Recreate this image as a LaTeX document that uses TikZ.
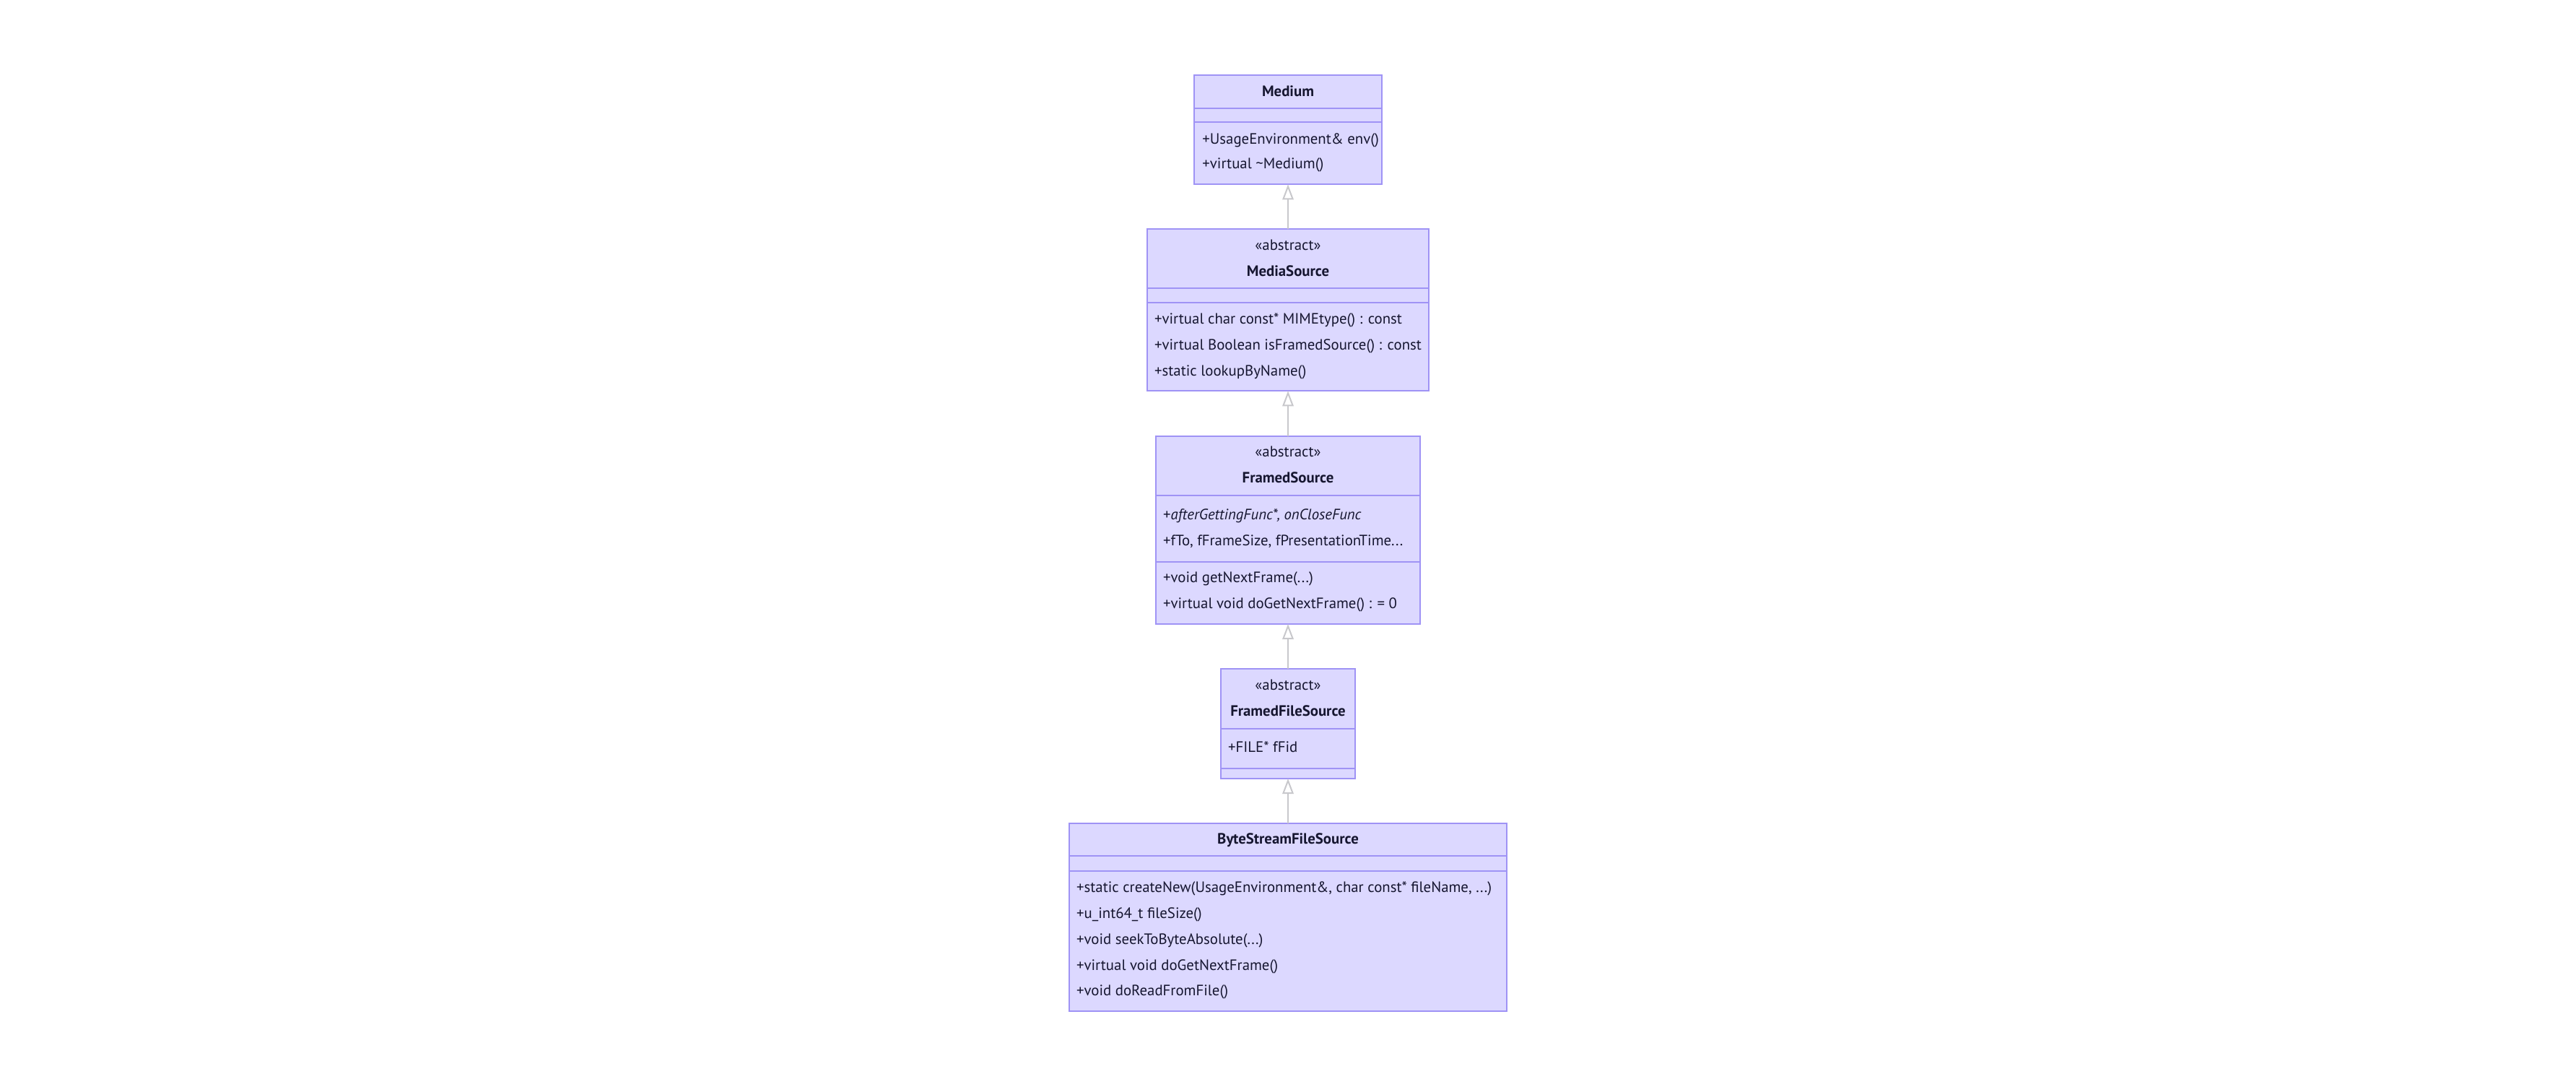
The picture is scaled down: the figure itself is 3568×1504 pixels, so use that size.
\documentclass[tikz,border=0pt]{standalone}
\usepackage{fontspec}
\setmainfont{PT Sans}
\usetikzlibrary{arrows.meta,calc}
\definecolor{boxfill}{RGB}{220,216,255}
\definecolor{boxline}{RGB}{159,147,245}
\definecolor{linkline}{RGB}{200,200,204}
\definecolor{txt}{RGB}{22,22,48}
\tikzset{
  classbox/.style={draw=boxline, fill=boxfill, line width=1pt, inner sep=0pt, outer sep=0pt},
  divider/.style={draw=boxline, line width=1pt},
  txtfont/.style={font=\fontsize{10.4}{12.5}\selectfont},
  member/.style={txtfont, anchor=base west, yshift=-3.6pt, inner sep=0pt, text=txt},
  ctitle/.style={font=\fontsize{10.4}{12.5}\selectfont\bfseries, anchor=base, yshift=-3.6pt, inner sep=0pt, text=txt},
  stereo/.style={txtfont, anchor=base, yshift=-3.6pt, inner sep=0pt, text=txt},
  inherit/.style={draw=linkline, line width=1pt, -{Triangle[length=10.5pt, width=7.7pt, fill=white]}}
}
\begin{document}
\begin{tikzpicture}[x=0.5pt,y=-0.5pt]
\fill[white] (0,0) rectangle (3568,1504);
\useasboundingbox (0,0) rectangle (3568,1504);

% ---------- Medium ----------
\node[classbox, minimum width=259.3*0.5pt, minimum height=151.3*0.5pt] (medium) at (1784,179.7) {};
\draw[divider] ($(medium.north west)+(0,46)$) -- ($(medium.north east)+(0,46)$);
\draw[divider] ($(medium.north west)+(0,65.3)$) -- ($(medium.north east)+(0,65.3)$);
\node[ctitle] (medium-t) at (1784,126) {Medium};
\node[member] (medium-m1) at (1665,192.7) {+UsageEnvironment\& env()};
\node[member] (medium-m2) at (1665,226.7) {+virtual \textasciitilde Medium()};

% ---------- MediaSource ----------
\node[classbox, minimum width=390.6*0.5pt, minimum height=224*0.5pt] (mediasource) at (1784,429.3) {};
\draw[divider] ($(mediasource.north west)+(0,82)$) -- ($(mediasource.north east)+(0,82)$);
\draw[divider] ($(mediasource.north west)+(0,102)$) -- ($(mediasource.north east)+(0,102)$);
\node[stereo] (mediasource-s) at (1784,339.3) {«abstract»};
\node[ctitle] (mediasource-t) at (1784,375.3) {MediaSource};
\node[member] (mediasource-m1) at (1598.7,441.3) {+virtual char const* MIMEtype() : const};
\node[member] (mediasource-m2) at (1598.7,477.3) {+virtual Boolean isFramedSource() : const};
\node[member] (mediasource-m3) at (1598.7,513.3) {+static lookupByName()};

% ---------- FramedSource ----------
\node[classbox, minimum width=366*0.5pt, minimum height=260*0.5pt] (framedsource) at (1784,734) {};
\draw[divider] ($(framedsource.north west)+(0,82)$) -- ($(framedsource.north east)+(0,82)$);
\draw[divider] ($(framedsource.north west)+(0,174)$) -- ($(framedsource.north east)+(0,174)$);
\node[stereo] (framedsource-s) at (1784,625.3) {«abstract»};
\node[ctitle] (framedsource-t) at (1784,661.3) {FramedSource};
\node[member] (framedsource-a1) at (1610.7,712) {+\textit{afterGettingFunc*, onCloseFunc}};
\node[member] (framedsource-a2) at (1610.7,748.7) {+fTo, fFrameSize, fPresentationTime...};
\node[member] (framedsource-m1) at (1610.7,799.3) {+void getNextFrame(...)};
\node[member] (framedsource-m2) at (1610.7,835.3) {+virtual void doGetNextFrame() : = 0};

% ---------- FramedFileSource ----------
\node[classbox, minimum width=186.6*0.5pt, minimum height=152*0.5pt] (framedfilesource) at (1784,1002) {};
\draw[divider] ($(framedfilesource.north west)+(0,82.7)$) -- ($(framedfilesource.north east)+(0,82.7)$);
\draw[divider] ($(framedfilesource.north west)+(0,138)$) -- ($(framedfilesource.north east)+(0,138)$);
\node[stereo] (framedfilesource-s) at (1784,948) {«abstract»};
\node[ctitle] (framedfilesource-t) at (1784,984) {FramedFileSource};
\node[member] (framedfilesource-a1) at (1700.7,1034) {+FILE* fFid};

% ---------- ByteStreamFileSource ----------
\node[classbox, minimum width=606.6*0.5pt, minimum height=260*0.5pt] (bytestream) at (1784,1270) {};
\draw[divider] ($(bytestream.north west)+(0,45.3)$) -- ($(bytestream.north east)+(0,45.3)$);
\draw[divider] ($(bytestream.north west)+(0,66)$) -- ($(bytestream.north east)+(0,66)$);
\node[ctitle] (bytestream-t) at (1784,1161.7) {ByteStreamFileSource};
\node[member] (bytestream-m1) at (1490.7,1228.7) {+static createNew(UsageEnvironment\&, char const* fileName, ...)};
\node[member] (bytestream-m2) at (1490.7,1264.7) {+u\_int64\_t fileSize()};
\node[member] (bytestream-m3) at (1490.7,1300.7) {+void seekToByteAbsolute(...)};
\node[member] (bytestream-m4) at (1490.7,1336) {+virtual void doGetNextFrame()};
\node[member] (bytestream-m5) at (1490.7,1371.7) {+void doReadFromFile()};

% ---------- inheritance ----------
\draw[inherit] (mediasource.north) -- (medium.south);
\draw[inherit] (framedsource.north) -- (mediasource.south);
\draw[inherit] (framedfilesource.north) -- (framedsource.south);
\draw[inherit] (bytestream.north) -- (framedfilesource.south);
\end{tikzpicture}
\end{document}
